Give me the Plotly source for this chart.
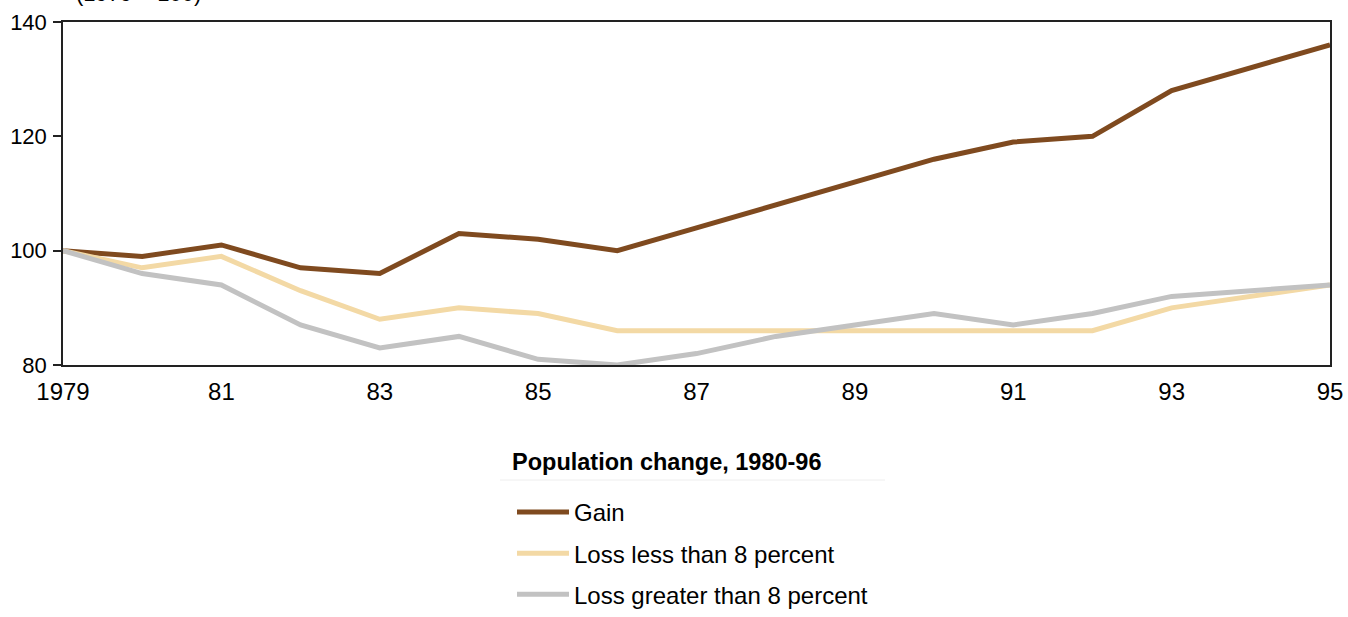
import plotly.graph_objects as go

years = list(range(1979, 1996))
gain = [100, 99, 101, 97, 96, 103, 102, 100, 104, 108, 112, 116, 119, 120, 128, 132, 136]
loss_less = [100, 97, 99, 93, 88, 90, 89, 86, 86, 86, 86, 86, 86, 86, 90, 92, 94]
loss_greater = [100, 96, 94, 87, 83, 85, 81, 80, 82, 85, 87, 89, 87, 89, 92, 93, 94]

tick_vals = list(range(1979, 1996, 2))
tick_text = ["1979", "81", "83", "85", "87", "89", "91", "93", "95"]

series = [
    ("Gain", gain, "#7f4a1f"),
    ("Loss less than 8 percent", loss_less, "#f3d9a5"),
    ("Loss greater than 8 percent", loss_greater, "#c2c2c2"),
]

font_family = "Liberation Sans, Arial, sans-serif"

fig = go.Figure()
for i, (name, vals, color) in enumerate(series):
    fig.add_trace(go.Scatter(
        x=years, y=vals, name=name, mode="lines",
        line=dict(color=color, width=5),
        legendgroup=f"g{i}",
        cliponaxis=False,
    ))

fig.update_layout(
    width=1348, height=617,
    margin=dict(l=63, r=18, t=22, b=252, autoexpand=False),
    paper_bgcolor="white", plot_bgcolor="white",
    font=dict(family=font_family, size=22, color="black"),
    showlegend=True,
    legend=dict(
        x=(512 - 63) / 1267, xanchor="left", y=-0.364, yanchor="top",
        traceorder="grouped", tracegroupgap=7, itemwidth=52,
        font=dict(size=24, color="black"),
        bgcolor="rgba(0,0,0,0)",
    ),
    xaxis=dict(
        range=[1979, 1995], tickmode="array", tickvals=tick_vals, ticktext=tick_text,
        showgrid=False, zeroline=False, showline=True, linecolor="#222", linewidth=2,
        mirror=True, ticks="", tickfont=dict(size=24), ticklabelstandoff=4,
    ),
    yaxis=dict(
        range=[80, 140], tickmode="array", tickvals=[80, 100, 120, 140],
        showgrid=False, zeroline=False, showline=True, linecolor="#222", linewidth=1.5,
        mirror=True, ticks="outside", ticklen=8, tickwidth=1.5, tickcolor="#222",
        tickfont=dict(size=22), ticklabelstandoff=2,
    ),
    annotations=[
        dict(text="(1979 = 100)", xref="paper", yref="paper", x=(74 - 63) / 1267, y=1.0,
             xanchor="left", yanchor="bottom", yshift=14, showarrow=False,
             font=dict(size=22)),
        dict(text="<b>Population change, 1980-96</b>", xref="paper", yref="paper",
             x=(510 - 63) / 1267, y=(365 - 462) / 343, xanchor="left", yanchor="middle",
             showarrow=False, font=dict(size=23.5)),
    ],
    shapes=[
        dict(type="line", xref="paper", yref="paper",
             x0=(500 - 63) / 1267, x1=(885 - 63) / 1267,
             y0=(365 - 480) / 343, y1=(365 - 480) / 343,
             line=dict(color="#eeeeee", width=1)),
    ],
)

fig.write_html("out.html")
